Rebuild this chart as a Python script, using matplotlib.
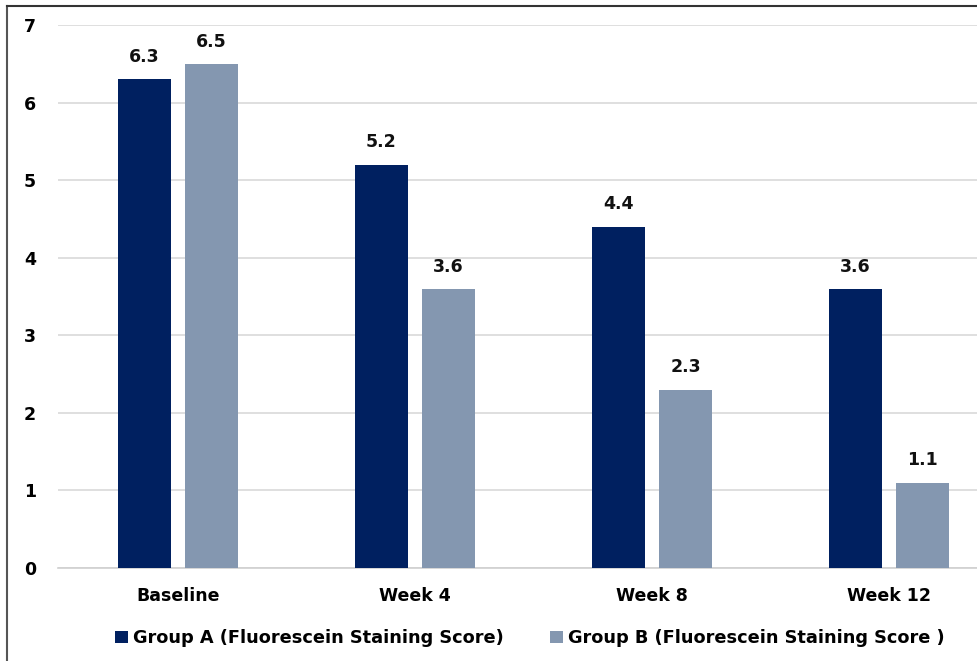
import matplotlib
matplotlib.use("Agg")
import matplotlib.pyplot as plt
from matplotlib.lines import Line2D
import numpy as np

# chart values
timepoints = ['Baseline', 'Week 4', 'Week 8', 'Week 12']
group_a = [6.3, 5.2, 4.4, 3.6]
group_b = [6.5, 3.6, 2.3, 1.1]
labels = ['Group A (Fluorescein Staining Score)', 'Group B (Fluorescein Staining Score )']

navy, slate = '#002060', '#8497B0'

fig = plt.figure(figsize=(9.78, 6.61), dpi=100)
ax = fig.add_axes([58/978, 1-568/661, 1-58/978, (568-25)/661])

x = np.arange(len(timepoints))
w = 0.224
b1 = ax.bar(x - 0.142, group_a, w, color=navy, label=labels[0], zorder=3)
b2 = ax.bar(x + 0.142, group_b, w, color=slate, label=labels[1], zorder=3)

for bars in (b1, b2):
    for r in bars:
        ax.text(r.get_x() + r.get_width()/2, r.get_height() + 0.17, f'{r.get_height():.1f}',
                ha='center', va='bottom', fontsize=12.5, fontweight='bold',
                family='DejaVu Sans', color='#111111')

ax.set_ylim(0, 7)
ax.set_xlim(-0.506, 3.375)
ax.set_yticks(range(8))
ax.yaxis.grid(True, color='#D9D9D9', linewidth=1.2, zorder=0)
ax.set_axisbelow(True)
for s in ['left', 'right', 'top']:
    ax.spines[s].set_visible(False)
ax.spines['bottom'].set_color('#D0D0D0')
ax.spines['bottom'].set_linewidth(1.2)
ax.tick_params(axis='y', length=0, pad=16, labelsize=12.5)
ax.tick_params(axis='x', length=0, pad=14, labelsize=12.5)
for t in ax.get_yticklabels():
    t.set_fontweight('bold')
    t.set_family('DejaVu Sans')
ax.set_xticks(x)
ax.set_xticklabels(timepoints, fontweight='bold', family='DejaVu Sans')

leg = fig.legend(loc='center', bbox_to_anchor=(530/978, 1-638/661), ncol=2, frameon=False,
                 handlelength=0.7, handleheight=0.7, handletextpad=0.3, columnspacing=2.6,
                 prop={'family': 'DejaVu Sans', 'weight': 'bold', 'size': 12.8})

# outer frame, left and top edges
fig.add_artist(Line2D([7/978, 7/978], [0, 1-6/661], color='#555555', lw=1.5))
fig.add_artist(Line2D([7/978, 1], [1-6/661, 1-6/661], color='#333333', lw=1.5))

fig.savefig('out.png', dpi=100)
